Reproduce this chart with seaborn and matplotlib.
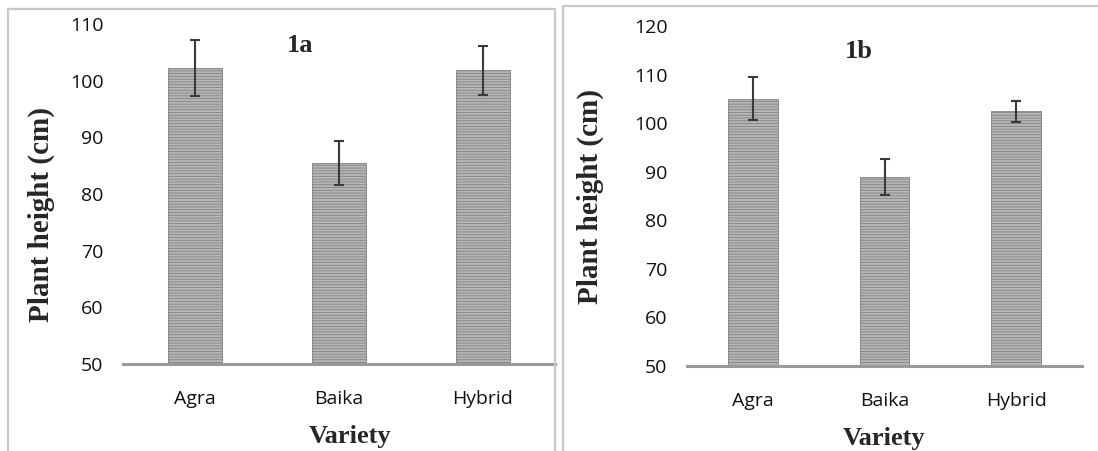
import numpy as np
import matplotlib
matplotlib.use("Agg")
import matplotlib.pyplot as plt
import seaborn as sns
from matplotlib.patches import Rectangle

# data
varieties = ["Agra", "Baika", "Hybrid"]
height_1a = [102.2, 85.5, 101.8]
err_1a = [4.9, 3.9, 4.3]
height_1b = [105.0, 88.9, 102.4]
err_1b = [4.4, 3.7, 2.2]

sns.set_style("white")
plt.rcParams["font.family"] = ["Open Sans", "DejaVu Sans"]
plt.rcParams["hatch.linewidth"] = 0.6

fig = plt.figure(figsize=(10.98, 4.51), dpi=100)
W, H = 1098, 451

# panel borders (pixel coords), bottom edge runs off the image
for (x0, y0, x1, y1) in [(8, 9, 555, 470), (563, 6, 1110, 470)]:
    fig.add_artist(Rectangle((x0 / W, 1 - y1 / H), (x1 - x0) / W, (y1 - y0) / H,
                             transform=fig.transFigure, fill=False,
                             edgecolor="#c8c8c8", linewidth=1.6))


def panel(rect, values, errs, ylim, label, label_pos, xlab_pos, ylab_pos):
    ax = fig.add_axes(rect)
    sns.barplot(x=varieties, y=values, ax=ax, color="#b6b6b6", saturation=1,
                width=0.375, errorbar=None, edgecolor="#828282", linewidth=0.6)
    for p in ax.patches:
        p.set_hatch("------")
    ax.errorbar(range(len(varieties)), values, yerr=errs, fmt="none",
                ecolor="#3a3a3a", elinewidth=1.5, capsize=3.8, capthick=1.5)
    ax.set_ylim(*ylim)
    ax.set_yticks(np.arange(ylim[0], ylim[1] + 1, 10))
    ax.set_xlim(-0.5, 2.5)
    for s in ["top", "right", "left"]:
        ax.spines[s].set_visible(False)
    ax.spines["bottom"].set_color("#9a9a9a")
    ax.spines["bottom"].set_linewidth(2.2)
    ax.tick_params(axis="both", length=0, labelsize=14, colors="#111111")
    ax.tick_params(axis="y", pad=14)
    ax.tick_params(axis="x", pad=18.5)
    ax.set_xlabel("Variety", family="Liberation Serif", fontweight="bold", fontsize=19)
    ax.set_ylabel("Plant height (cm)", family="Liberation Serif", fontweight="bold",
                  fontsize=21)
    ax.xaxis.set_label_coords(*xlab_pos)
    ax.yaxis.set_label_coords(*ylab_pos)
    ax.text(label_pos[0], label_pos[1], label, transform=ax.transAxes,
            family="Liberation Serif", fontweight="bold", fontsize=19,
            ha="center", va="center")
    return ax


ax1 = panel([123 / W, 1 - 364 / H, (555 - 123) / W, 340 / H],
            height_1a, err_1a, (50, 110), "1a", (0.41, 0.938),
            (0.525, -0.178), (-0.157, 0.44))
ax2 = panel([687 / W, 1 - 366 / H, (1082 - 687) / W, 340 / H],
            height_1b, err_1b, (50, 120), "1b", (0.435, 0.924),
            (0.5, -0.178), (-0.21, 0.5))

fig.savefig("out.png", dpi=100)
